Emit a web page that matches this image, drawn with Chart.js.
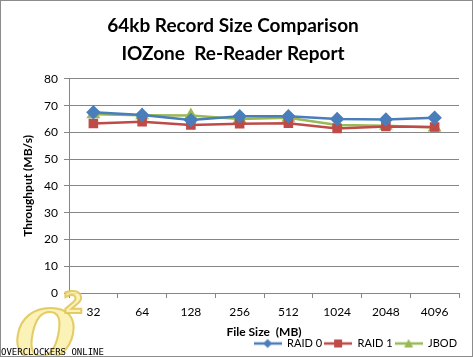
<!DOCTYPE html>
<html><head><meta charset="utf-8">
<script src="https://cdn.jsdelivr.net/npm/chart.js@4/dist/chart.umd.min.js"></script>
<style>
html,body{margin:0;padding:0;background:#fff;}
#wrap{width:473px;height:357px;box-sizing:border-box;border:1px solid #8c8c8c;position:relative;}
canvas{display:block;}
</style></head>
<body><div id="wrap"><canvas id="c" width="471" height="355"></canvas></div>
<script>
const categories = ['32','64','128','256','512','1024','2048','4096'];
const raid0 = [67.5, 66.5, 64.6, 66.0, 66.0, 65.0, 64.8, 65.5];
const raid1 = [63.3, 64.0, 62.8, 63.2, 63.4, 61.5, 62.2, 62.0];
const jbod  = [66.8, 66.4, 66.3, 65.0, 65.5, 62.8, 62.5, 61.8];
const seriesNames = ['RAID 0','RAID 1','JBOD'];
const colors = ['#4A7EBB','#BE4B48','#98B954'];
const styles = ['rectRot','rect','triangle'];
const titleLines = ['64kb Record Size Comparison','IOZone  Re-Reader Report'];
const fontFam = "Lato, 'Open Sans', sans-serif";

function legendIcon(color, style){
  const cv = document.createElement('canvas');
  cv.width = 28; cv.height = 12;
  const g = cv.getContext('2d');
  g.strokeStyle = color; g.lineWidth = 2.5;
  g.beginPath(); g.moveTo(0,6); g.lineTo(28,6); g.stroke();
  g.fillStyle = color;
  g.beginPath();
  if(style==='rectRot'){ g.moveTo(14,1.5); g.lineTo(18.5,6); g.lineTo(14,10.5); g.lineTo(9.5,6); }
  else if(style==='rect'){ g.rect(10,2,8,8); }
  else { g.moveTo(14,1.5); g.lineTo(18.5,10); g.lineTo(9.5,10); }
  g.closePath(); g.fill();
  return cv;
}

const data = [raid0, raid1, jbod];
const datasets = seriesNames.map((n,i)=>({
  label:n, data:data[i], borderColor:colors[i], backgroundColor:colors[i],
  borderWidth:2.5, pointStyle:styles[i], pointRadius: i===1?5:5.5, pointHoverRadius:5,
  tension:0
}));

const legendSize = {
  id:'legendSize',
  afterInit(chart){
    const lg = chart.legend;
    if(!lg) return;
    const orig = lg.fit.bind(lg);
    lg.fit = function(){ orig(); this.height = 20; };
  }
};

const watermark = {
  id:'wm',
  afterDraw(chart){
    const ctx = chart.ctx;
    ctx.save();
    ctx.font = "italic bold 70px 'DejaVu Serif', serif";
    ctx.lineWidth = 2;
    ctx.fillStyle = 'rgba(250,240,170,0.85)';
    ctx.strokeStyle = 'rgba(225,200,90,0.9)';
    ctx.fillText('O', 14, 340);
    ctx.strokeText('O', 14, 340);
    ctx.font = "bold 30px 'DejaVu Sans', sans-serif";
    ctx.fillText('2', 62, 304);
    ctx.strokeText('2', 62, 304);
    ctx.fillStyle = '#000';
    ctx.font = "9px 'DejaVu Sans Mono', monospace";
    ctx.textBaseline = 'alphabetic';
    ctx.fillText('OVERCLOCKERS ONLINE', 0, 354);
    ctx.restore();
  }
};

new Chart(document.getElementById('c'), {
  type:'line',
  data:{labels:categories, datasets},
  plugins:[legendSize, watermark],
  options:{
    responsive:false, animation:false,
    layout:{padding:{left:6,right:13,top:0,bottom:0}},
    plugins:{
      title:{display:true, text:titleLines, color:'#000',
        font:{family:fontFam, size:19, weight:'bold', lineHeight:1.47}, padding:{top:11,bottom:11}},
      legend:{position:'bottom', align:'end',
        labels:{color:'#000', font:{family:fontFam,size:11}, usePointStyle:true, pointStyleWidth:28, boxWidth:28, boxHeight:12, padding:2,
          generateLabels(chart){
            return chart.data.datasets.map((d,i)=>({text:d.label, pointStyle:legendIcon(colors[i],styles[i]), fillStyle:colors[i], strokeStyle:colors[i], lineWidth:0, datasetIndex:i, fontColor:'#000'}));
          }}},
      tooltip:{enabled:false}
    },
    scales:{
      x:{offset:true,
        afterFit(s){ s.height = 43; },
        grid:{offset:true, drawOnChartArea:false, drawTicks:true, tickLength:5, color:'#868686'},
        border:{color:'#868686'},
        ticks:{color:'#000', font:{family:fontFam,size:12}, padding:7, maxRotation:0},
        title:{display:true, text:'File Size  (MB)', color:'#000', font:{family:fontFam,size:12,weight:'bold',lineHeight:0.7}, padding:{top:0,bottom:0}}
      },
      y:{min:0,max:80,
        afterFit(s){ s.width = 62; },
        grid:{color:'#868686', tickLength:5},
        border:{color:'#868686'},
        ticks:{stepSize:10, color:'#000', font:{family:fontFam,size:12}, padding:6},
        title:{display:true, text:'Throughput (MB/s)', color:'#000', font:{family:fontFam,size:12,weight:'bold'}, padding:{top:14,bottom:0}}
      }
    }
  }
});
</script></body></html>
